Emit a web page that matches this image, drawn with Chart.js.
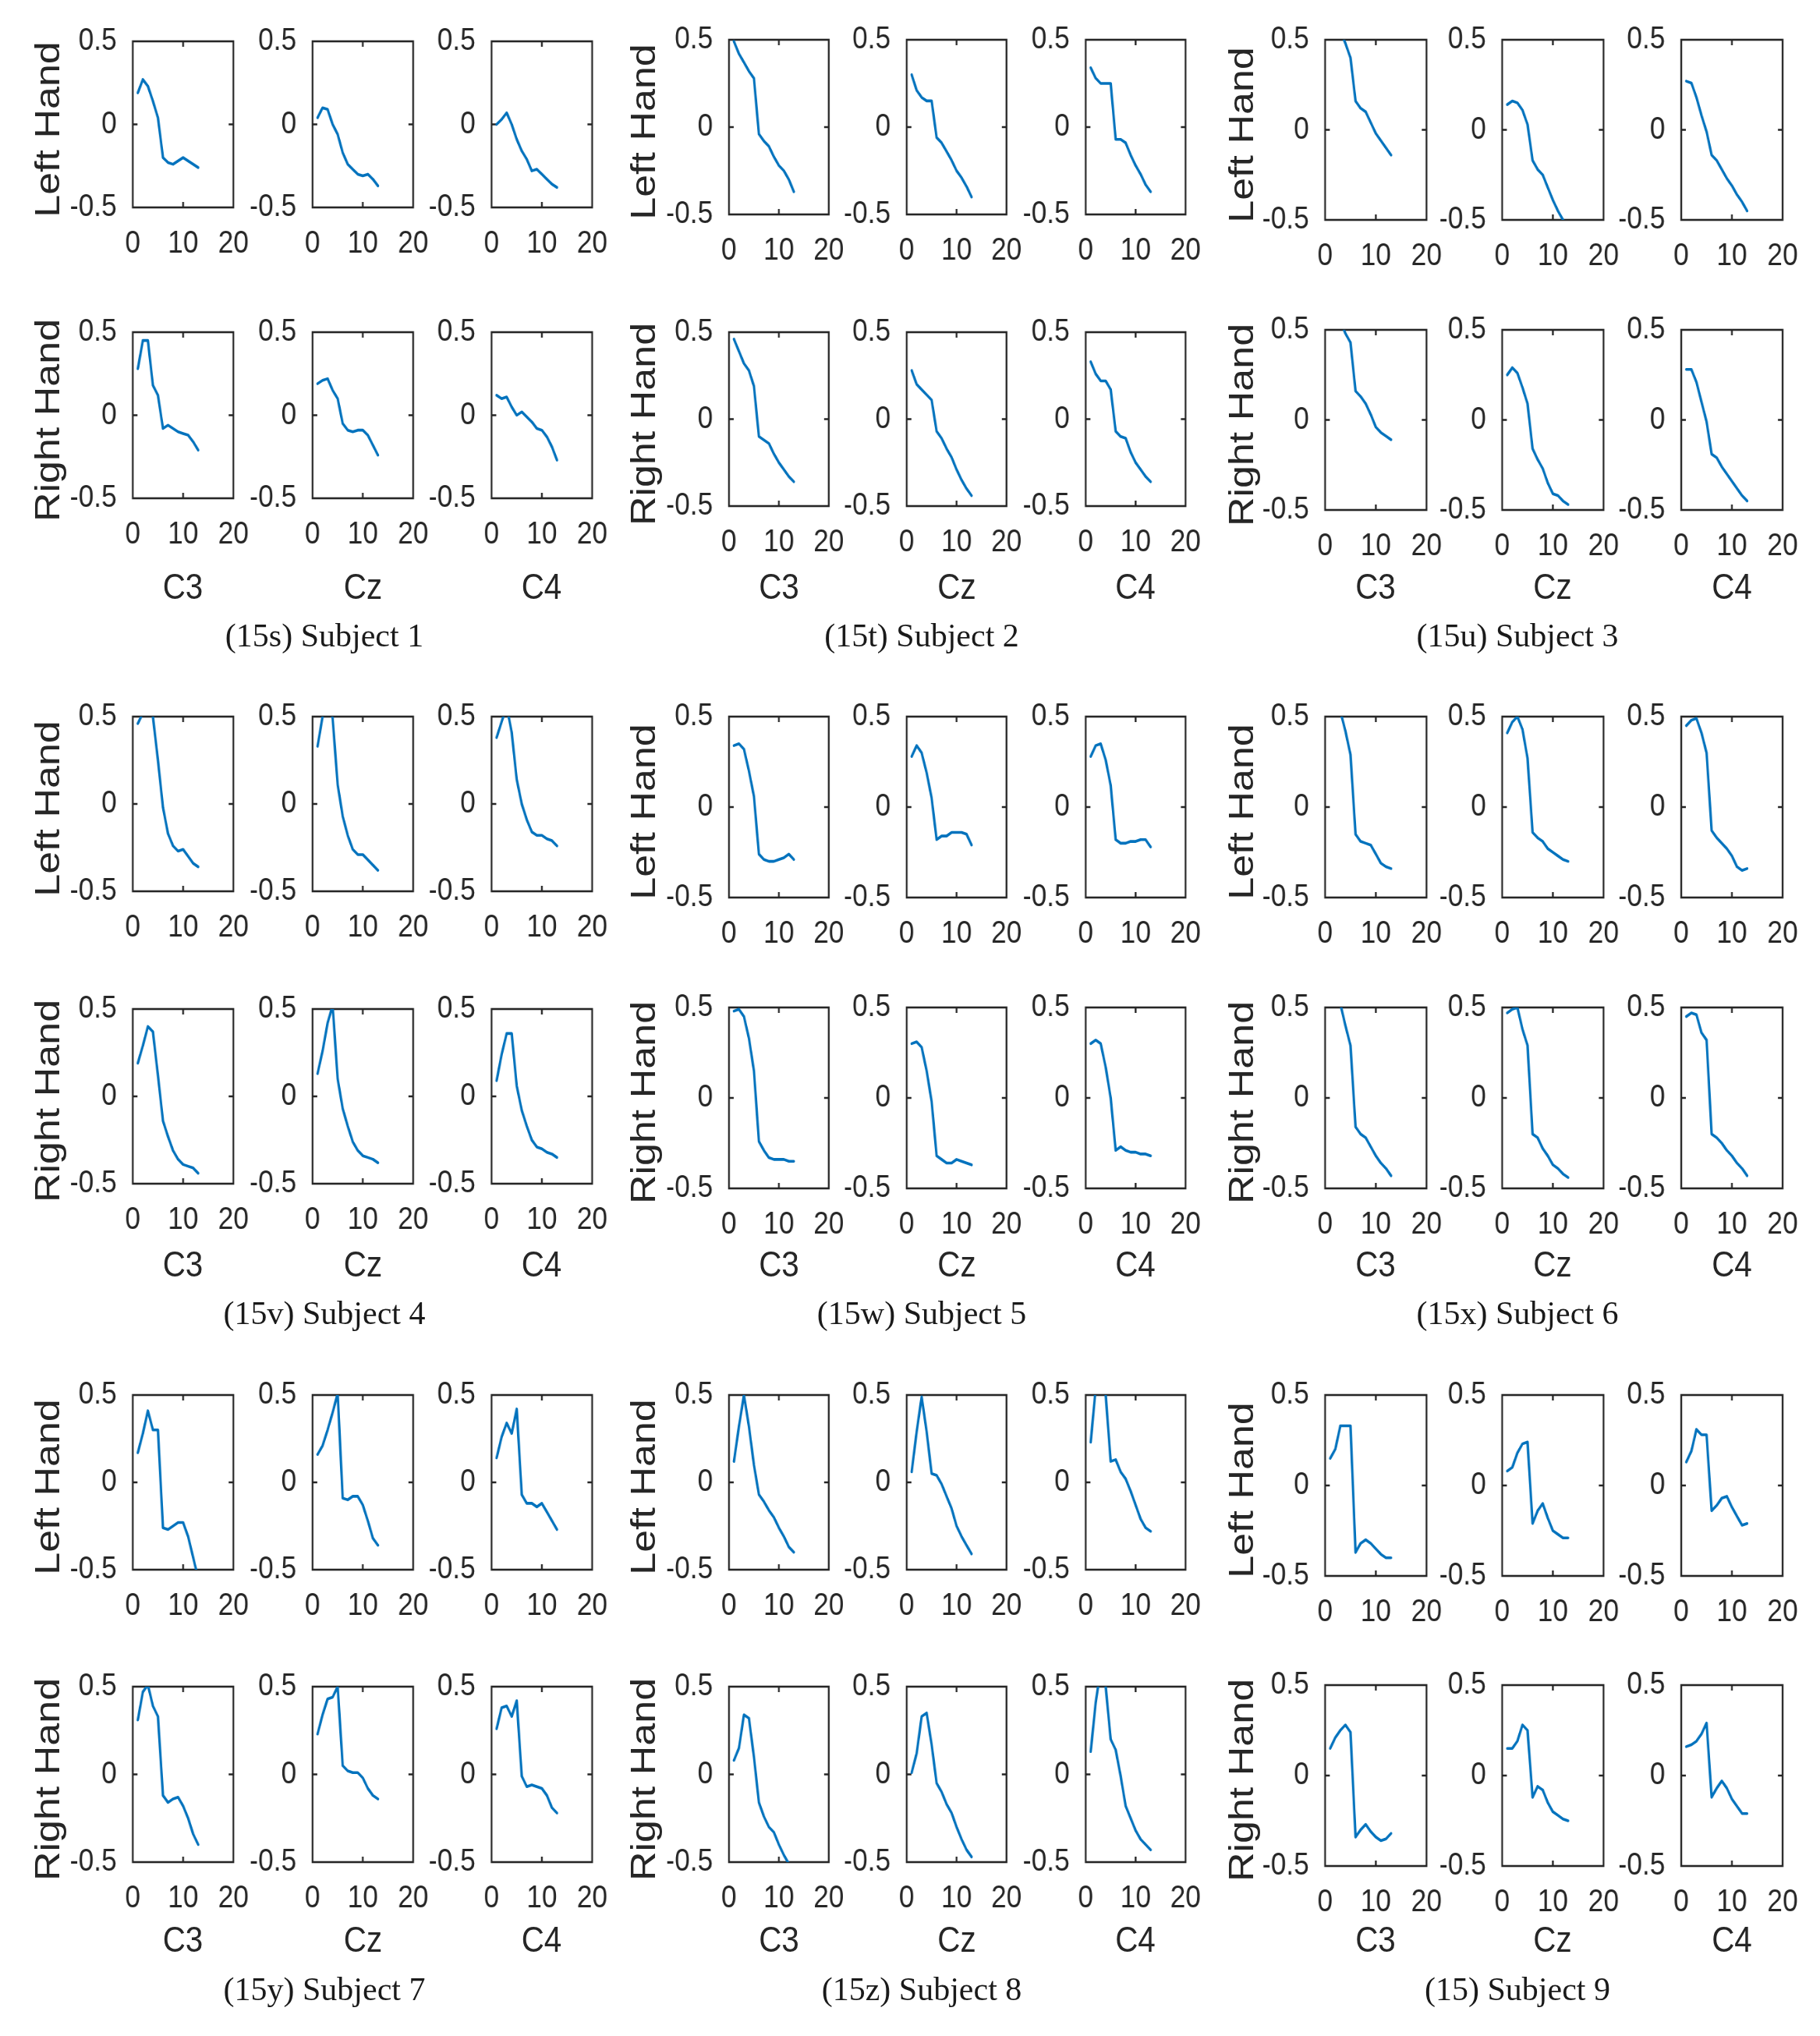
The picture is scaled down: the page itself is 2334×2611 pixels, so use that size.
<!DOCTYPE html>
<html>
<head>
<meta charset="utf-8">
<script src="https://cdn.jsdelivr.net/npm/chart.js@4.4.0/dist/chart.umd.min.js"></script>
<style>
  html, body { margin: 0; padding: 0; background: #fff; }
  #page { position: relative; width: 2334px; height: 2611px; overflow: hidden; background: #fff; }
  #fig { position: absolute; left: 0; top: 0; width: 2720px; height: 2611px; transform: scaleX(0.86); transform-origin: 0 0; }
  #fig canvas { position: absolute; }
  .lab { position: absolute; font-family: 'Liberation Sans', Arial, Helvetica, sans-serif; color: #262626; white-space: nowrap; line-height: 1; }
  .cap { position: absolute; font-family: 'Liberation Serif', 'Times New Roman', serif; font-size: 42px; color: #1a1a1a; white-space: nowrap; line-height: 1; transform: translate(-50%, -50%); }
</style>
</head>
<body>
<div id="page"><div id="fig"></div></div>
<script>
// x positions of the samples, axis ticks and labels
const bins = [1, 2, 3, 4, 5, 6, 7, 8, 9, 10, 11, 12, 13];
const xTicks = [0, 10, 20];
const yTicks = [-0.5, 0, 0.5];
const channels = ['C3', 'Cz', 'C4'];
const hands = ['Left Hand', 'Right Hand'];
const captions = ['(15s) Subject 1', '(15t) Subject 2', '(15u) Subject 3',
                  '(15v) Subject 4', '(15w) Subject 5', '(15x) Subject 6',
                  '(15y) Subject 7', '(15z) Subject 8', '(15) Subject 9'];

// values per subject / hand, one row per channel (C3, Cz, C4)
const s1Left = [
  [0.19, 0.27, 0.23, 0.14, 0.04, -0.2, -0.23, -0.24, -0.22, -0.2, -0.22, -0.24, -0.26],
  [0.04, 0.1, 0.09, 0.0, -0.06, -0.17, -0.24, -0.27, -0.3, -0.31, -0.3, -0.33, -0.37],
  [0.0, 0.03, 0.07, 0.0, -0.09, -0.16, -0.21, -0.28, -0.27, -0.3, -0.33, -0.36, -0.38]];
const s1Right = [
  [0.28, 0.45, 0.45, 0.18, 0.12, -0.08, -0.06, -0.08, -0.1, -0.11, -0.12, -0.16, -0.21],
  [0.19, 0.21, 0.22, 0.15, 0.1, -0.05, -0.09, -0.1, -0.09, -0.09, -0.12, -0.18, -0.24],
  [0.12, 0.1, 0.11, 0.05, 0.0, 0.02, -0.01, -0.04, -0.08, -0.09, -0.13, -0.19, -0.27]];
const s2Left = [
  [0.49, 0.42, 0.37, 0.32, 0.28, -0.04, -0.08, -0.11, -0.17, -0.22, -0.25, -0.3, -0.37],
  [0.3, 0.21, 0.17, 0.15, 0.15, -0.06, -0.09, -0.14, -0.19, -0.25, -0.29, -0.34, -0.4],
  [0.34, 0.28, 0.25, 0.25, 0.25, -0.07, -0.07, -0.09, -0.16, -0.22, -0.27, -0.33, -0.37]];
const s2Right = [
  [0.46, 0.39, 0.32, 0.28, 0.19, -0.1, -0.12, -0.14, -0.2, -0.25, -0.29, -0.33, -0.36],
  [0.28, 0.2, 0.17, 0.14, 0.11, -0.07, -0.11, -0.17, -0.22, -0.29, -0.35, -0.4, -0.44],
  [0.33, 0.26, 0.22, 0.22, 0.17, -0.07, -0.1, -0.11, -0.19, -0.25, -0.29, -0.33, -0.36]];
const s3Left = [
  [0.68, 0.62, 0.55, 0.48, 0.4, 0.16, 0.12, 0.1, 0.04, -0.02, -0.06, -0.1, -0.14],
  [0.14, 0.16, 0.15, 0.11, 0.03, -0.17, -0.22, -0.25, -0.32, -0.39, -0.45, -0.5, -0.56],
  [0.27, 0.26, 0.18, 0.08, -0.01, -0.14, -0.17, -0.22, -0.27, -0.31, -0.36, -0.4, -0.45]];
const s3Right = [
  [0.68, 0.62, 0.55, 0.48, 0.43, 0.16, 0.13, 0.09, 0.03, -0.04, -0.07, -0.09, -0.11],
  [0.25, 0.29, 0.26, 0.18, 0.09, -0.16, -0.22, -0.27, -0.35, -0.41, -0.42, -0.45, -0.47],
  [0.28, 0.28, 0.21, 0.1, -0.01, -0.19, -0.21, -0.26, -0.3, -0.34, -0.38, -0.42, -0.45]];
const s4Left = [
  [0.46, 0.52, 0.58, 0.5, 0.25, -0.02, -0.17, -0.24, -0.27, -0.26, -0.3, -0.34, -0.36],
  [0.33, 0.5, 0.62, 0.49, 0.11, -0.07, -0.18, -0.26, -0.29, -0.29, -0.32, -0.35, -0.38],
  [0.38, 0.47, 0.56, 0.41, 0.14, 0.0, -0.09, -0.16, -0.18, -0.18, -0.2, -0.21, -0.24]];
const s4Right = [
  [0.19, 0.29, 0.4, 0.37, 0.12, -0.14, -0.23, -0.31, -0.36, -0.39, -0.4, -0.41, -0.44],
  [0.13, 0.26, 0.42, 0.52, 0.1, -0.07, -0.17, -0.26, -0.31, -0.34, -0.35, -0.36, -0.38],
  [0.09, 0.24, 0.36, 0.36, 0.06, -0.08, -0.17, -0.25, -0.29, -0.3, -0.32, -0.33, -0.35]];
const s5Left = [
  [0.34, 0.35, 0.32, 0.2, 0.06, -0.26, -0.29, -0.3, -0.3, -0.29, -0.28, -0.26, -0.29],
  [0.28, 0.34, 0.3, 0.19, 0.05, -0.18, -0.16, -0.16, -0.14, -0.14, -0.14, -0.15, -0.21],
  [0.28, 0.34, 0.35, 0.26, 0.12, -0.18, -0.2, -0.2, -0.19, -0.19, -0.18, -0.18, -0.22]];
const s5Right = [
  [0.48, 0.49, 0.45, 0.33, 0.15, -0.24, -0.29, -0.33, -0.34, -0.34, -0.34, -0.35, -0.35],
  [0.3, 0.31, 0.28, 0.15, -0.02, -0.32, -0.34, -0.36, -0.36, -0.34, -0.35, -0.36, -0.37],
  [0.3, 0.32, 0.3, 0.17, 0.0, -0.29, -0.27, -0.29, -0.3, -0.3, -0.31, -0.31, -0.32]];
const s6Left = [
  [0.67, 0.6, 0.53, 0.42, 0.29, -0.15, -0.19, -0.2, -0.21, -0.26, -0.31, -0.33, -0.34],
  [0.41, 0.47, 0.5, 0.43, 0.27, -0.14, -0.17, -0.19, -0.23, -0.25, -0.27, -0.29, -0.3],
  [0.45, 0.48, 0.49, 0.41, 0.3, -0.13, -0.17, -0.2, -0.23, -0.27, -0.33, -0.35, -0.34]];
const s6Right = [
  [0.66, 0.6, 0.52, 0.4, 0.29, -0.16, -0.2, -0.22, -0.27, -0.32, -0.36, -0.39, -0.43],
  [0.47, 0.49, 0.5, 0.38, 0.29, -0.2, -0.22, -0.28, -0.32, -0.37, -0.39, -0.42, -0.44],
  [0.45, 0.47, 0.46, 0.36, 0.32, -0.2, -0.22, -0.25, -0.29, -0.32, -0.36, -0.39, -0.43]];
const s7Left = [
  [0.17, 0.28, 0.41, 0.3, 0.3, -0.26, -0.27, -0.25, -0.23, -0.23, -0.31, -0.43, -0.55],
  [0.16, 0.21, 0.3, 0.4, 0.51, -0.09, -0.1, -0.08, -0.08, -0.13, -0.22, -0.32, -0.36],
  [0.14, 0.26, 0.34, 0.28, 0.42, -0.07, -0.12, -0.12, -0.14, -0.12, -0.17, -0.22, -0.27]];
const s7Right = [
  [0.31, 0.47, 0.51, 0.39, 0.33, -0.12, -0.16, -0.14, -0.13, -0.18, -0.25, -0.34, -0.4],
  [0.23, 0.34, 0.43, 0.44, 0.5, 0.05, 0.02, 0.01, 0.01, -0.02, -0.08, -0.12, -0.14],
  [0.26, 0.38, 0.39, 0.33, 0.42, -0.01, -0.07, -0.06, -0.07, -0.08, -0.12, -0.19, -0.22]];
const s8Left = [
  [0.12, 0.32, 0.5, 0.32, 0.1, -0.07, -0.11, -0.16, -0.2, -0.26, -0.31, -0.37, -0.4],
  [0.06, 0.29, 0.49, 0.29, 0.05, 0.04, -0.01, -0.08, -0.15, -0.25, -0.31, -0.36, -0.41],
  [0.23, 0.54, 0.62, 0.5, 0.12, 0.13, 0.06, 0.02, -0.05, -0.13, -0.21, -0.26, -0.28]];
const s8Right = [
  [0.08, 0.15, 0.34, 0.32, 0.1, -0.16, -0.24, -0.3, -0.33, -0.4, -0.46, -0.51, -0.55],
  [0.01, 0.12, 0.33, 0.35, 0.17, -0.05, -0.1, -0.17, -0.22, -0.3, -0.37, -0.43, -0.47],
  [0.13, 0.41, 0.6, 0.5, 0.2, 0.14, -0.01, -0.18, -0.25, -0.32, -0.37, -0.4, -0.43]];
const s9Left = [
  [0.15, 0.2, 0.33, 0.33, 0.33, -0.37, -0.32, -0.3, -0.32, -0.35, -0.38, -0.4, -0.4],
  [0.08, 0.1, 0.18, 0.23, 0.24, -0.21, -0.14, -0.1, -0.18, -0.25, -0.27, -0.29, -0.29],
  [0.13, 0.19, 0.31, 0.28, 0.28, -0.14, -0.11, -0.07, -0.06, -0.12, -0.17, -0.22, -0.21]];
const s9Right = [
  [0.15, 0.21, 0.25, 0.28, 0.24, -0.34, -0.3, -0.27, -0.31, -0.34, -0.36, -0.35, -0.32],
  [0.15, 0.15, 0.19, 0.28, 0.25, -0.12, -0.06, -0.08, -0.15, -0.2, -0.22, -0.24, -0.25],
  [0.16, 0.17, 0.19, 0.23, 0.29, -0.12, -0.07, -0.03, -0.07, -0.13, -0.17, -0.21, -0.21]];

const subjects = [
  [s1Left, s1Right], [s2Left, s2Right], [s3Left, s3Right],
  [s4Left, s4Right], [s5Left, s5Right], [s6Left, s6Right],
  [s7Left, s7Right], [s8Left, s8Right], [s9Left, s9Right]];

// ---- layout (page pixels) ----
const K = 0.86;            // the matlab panels are squeezed horizontally
const colX = [[170, 401, 630], [935, 1163, 1392], [1699, 1926, 2156]];
const colW = [129, 128, 130];
const handX = [60, 825, 1592];
const capX = [416, 1182, 1946];
const boxY = [
  [53, 266, 426, 639], [51, 275, 426, 649], [51, 282, 423, 654],
  [919, 1143, 1294, 1518], [919, 1151, 1292, 1524], [919, 1151, 1292, 1524],
  [1789, 2013, 2163, 2388], [1789, 2013, 2163, 2388], [1789, 2021, 2161, 2393]];
const chanY = [751, 1620, 2486];
const capY = [815, 1684, 2551];

// chart.js adds tick padding + half a label on top/right, keep room for it
const Y_AXIS = 92, X_AXIS = 72, PAD_T = 56, PAD_R = 56;
const INK = '#262626';
const tickFont = { family: "'Liberation Sans', Arial, sans-serif", size: 41 };

const fig = document.getElementById('fig');
const page = document.getElementById('page');

const frame = {
  id: 'frame',
  beforeDatasetsDraw(chart) {
    const { ctx, chartArea: a, scales: { x, y } } = chart;
    const t = 7;
    ctx.save();
    ctx.strokeStyle = INK;
    ctx.lineWidth = 2.6;
    ctx.strokeRect(a.left, a.top, a.right - a.left, a.bottom - a.top);
    ctx.beginPath();
    xTicks.slice(1, -1).forEach(v => {
      const px = x.getPixelForValue(v);
      ctx.moveTo(px, a.bottom); ctx.lineTo(px, a.bottom - t);
      ctx.moveTo(px, a.top); ctx.lineTo(px, a.top + t);
    });
    yTicks.slice(1, -1).forEach(v => {
      const py = y.getPixelForValue(v);
      ctx.moveTo(a.left, py); ctx.lineTo(a.left + t, py);
      ctx.moveTo(a.right, py); ctx.lineTo(a.right - t, py);
    });
    ctx.stroke();
    ctx.restore();
  }
};

function makePlot(values, left, top, w, h) {
  const areaW = w / K;
  const cw = Math.ceil(Y_AXIS + areaW + PAD_R);
  const ch = Math.ceil(PAD_T + h + X_AXIS);
  const cv = document.createElement('canvas');
  cv.width = cw; cv.height = ch;
  cv.style.left = (left / K - Y_AXIS) + 'px';
  cv.style.top = (top - PAD_T) + 'px';
  cv.style.width = cw + 'px';
  cv.style.height = ch + 'px';
  fig.appendChild(cv);

  new Chart(cv, {
    type: 'line',
    data: {
      datasets: [{
        data: bins.map((b, i) => ({ x: b, y: values[i] })),
        borderColor: '#0072BD',
        borderWidth: 3.6,
        pointRadius: 0,
        tension: 0,
        borderJoinStyle: 'round',
        borderCapStyle: 'round'
      }]
    },
    options: {
      responsive: false,
      animation: false,
      devicePixelRatio: 1,
      events: [],
      layout: { padding: { left: 0, top: PAD_T, right: cw - Y_AXIS - areaW, bottom: ch - PAD_T - h - X_AXIS } },
      plugins: { legend: { display: false }, tooltip: { enabled: false } },
      scales: {
        x: {
          type: 'linear', min: 0, max: 20,
          afterBuildTicks: ax => { ax.ticks = xTicks.map(v => ({ value: v })); },
          afterFit: ax => { ax.height = X_AXIS; },
          grid: { display: false, drawTicks: false },
          border: { display: false },
          ticks: { font: tickFont, color: INK, padding: 22, maxRotation: 0, autoSkip: false, callback: v => String(v) }
        },
        y: {
          type: 'linear', min: -0.5, max: 0.5,
          afterBuildTicks: ax => { ax.ticks = yTicks.map(v => ({ value: v })); },
          afterFit: ax => { ax.width = Y_AXIS; },
          grid: { display: false, drawTicks: false },
          border: { display: false },
          ticks: { font: tickFont, color: INK, padding: 24, autoSkip: false, callback: v => String(v) }
        }
      }
    },
    plugins: [frame]
  });
}

function addLabel(text, x, y, size, rotate) {
  const d = document.createElement('div');
  d.className = 'lab';
  d.textContent = text;
  d.style.fontSize = size + 'px';
  d.style.left = (x / K) + 'px';
  d.style.top = y + 'px';
  d.style.transform = 'translate(-50%, -50%)' + (rotate ? ' rotate(-90deg)' : '');
  fig.appendChild(d);
}

subjects.forEach((subj, s) => {
  const col = s % 3, row = Math.floor(s / 3);
  const by = boxY[s];
  subj.forEach((hand, hIdx) => {
    const top = by[hIdx * 2], bottom = by[hIdx * 2 + 1];
    hand.forEach((vals, c) => {
      makePlot(vals, colX[col][c], top, colW[col], bottom - top);
    });
    addLabel(hands[hIdx], handX[col], (top + bottom) / 2 + 6, 52, true);
  });
  channels.forEach((name, c) => {
    addLabel(name, colX[col][c] + colW[col] / 2, chanY[row], 47, false);
  });
  const cap = document.createElement('div');
  cap.className = 'cap';
  cap.textContent = captions[s];
  cap.style.left = capX[col] + 'px';
  cap.style.top = capY[row] + 'px';
  page.appendChild(cap);
});
</script>
</body>
</html>
